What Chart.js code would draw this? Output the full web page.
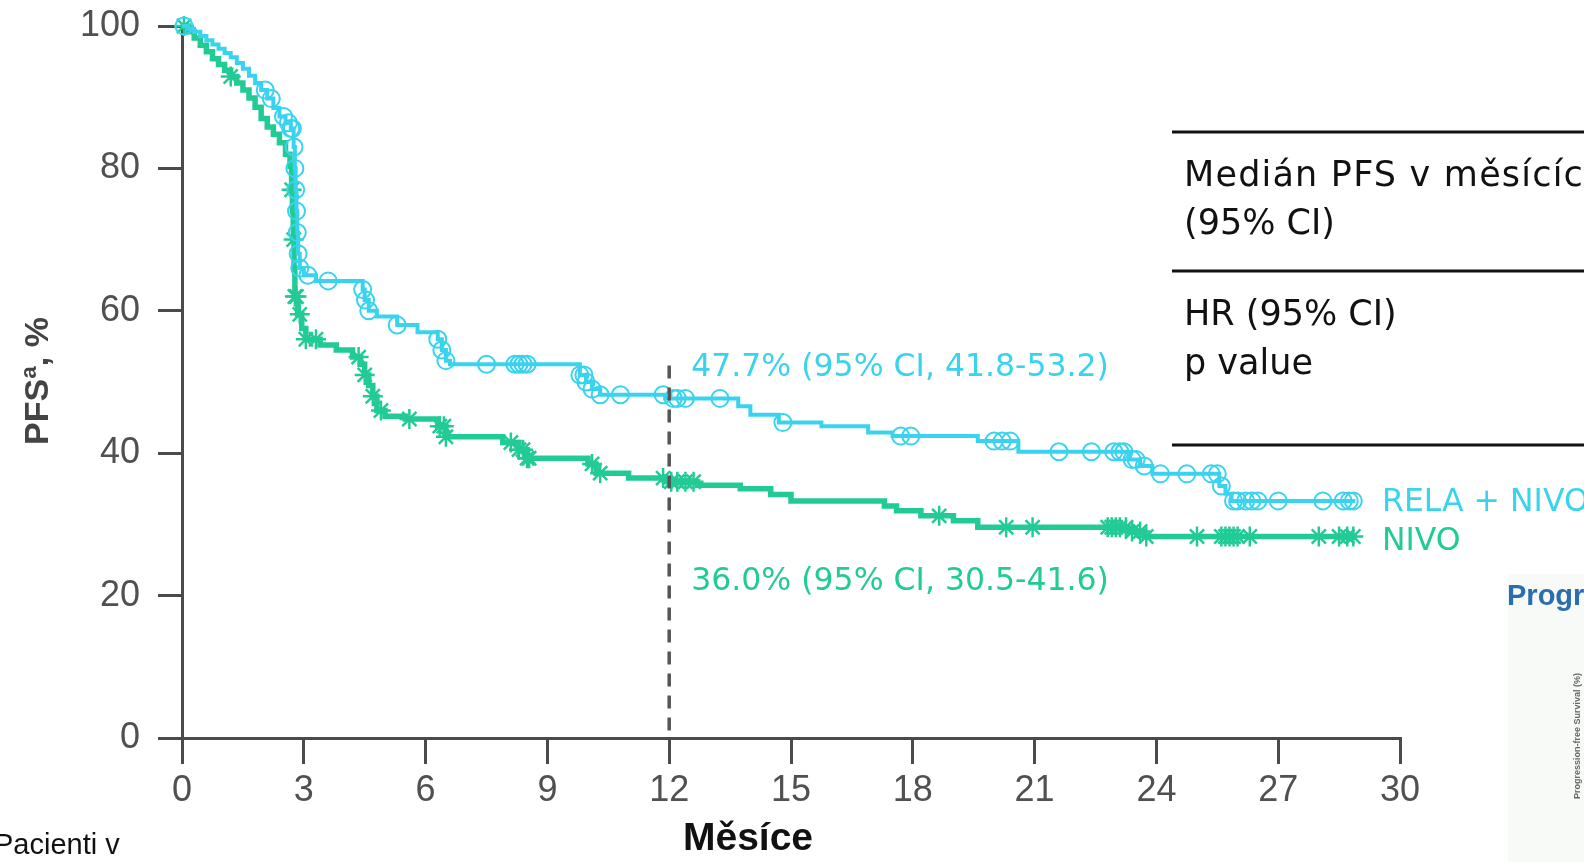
<!DOCTYPE html>
<html lang="cs">
<head>
<meta charset="UTF-8">
<title>PFS – RELA + NIVO vs NIVO</title>
<script src="https://cdn.jsdelivr.net/npm/chart.js@4"></script>
<style>
  html, body { margin: 0; padding: 0; background: #fff; overflow: hidden; }
  #wrap { width: 1584px; height: 862px; position: relative; }
</style>
</head>
<body>
<div id="wrap"><canvas id="pfsChart"></canvas></div>
<script>
// Kaplan-Meier steps: month of each drop and PFS (%) right after it
const relaNivoTimes = [0, 0.15, 0.3, 0.45, 0.6, 0.75, 0.9, 1.05, 1.2, 1.35, 1.5, 1.65, 1.8, 1.95,
  2.1, 2.25, 2.4, 2.55, 2.68, 2.75, 2.78, 2.8, 2.82, 2.84, 2.86, 2.9, 3.0, 3.3, 4.45, 4.5, 4.6, 4.8,
  5.3, 5.8, 6.3, 6.4, 6.5, 6.6, 9.8, 9.95, 10.1, 10.3, 11.9, 13.7, 14.0, 14.7, 15.75, 16.9, 17.5,
  19.6, 20.6, 23.35, 23.6, 23.9, 25.55, 25.7, 25.85];
const relaNivoPfs = [100, 99.6, 99.2, 98.6, 98, 97.4, 96.8, 96.2, 95.6, 94.8, 94, 93, 92, 91,
  89.8, 88.5, 87.3, 86.4, 85.6, 83, 80, 77, 74, 71, 68, 66, 65, 64.2, 63, 61.5, 60, 59.2,
  58, 57, 56, 54.5, 53, 52.5, 51, 50, 49, 48.2, 47.7, 46.6, 45.4, 44.3, 43.8, 42.9, 42.4,
  41.7, 40.2, 39.1, 38.2, 37.1, 35.4, 34.3, 33.3];
const relaNivoEnd = 28.9;
const relaNivoCensored = [0.05, 2.05, 2.2, 2.5, 2.62, 2.68, 2.72, 2.76, 2.78, 2.8, 2.82, 2.84, 2.86,
  2.9, 3.1, 3.6, 4.45, 4.52, 4.6, 5.3, 6.3, 6.4, 6.5, 7.5, 8.2, 8.3, 8.4, 8.5, 9.8, 9.9, 9.95, 10.1,
  10.3, 10.8, 11.85, 12.1, 12.2, 12.4, 13.25, 14.8, 17.7, 17.95, 20.0, 20.2, 20.4, 21.6, 22.4, 22.95,
  23.1, 23.2, 23.4, 23.5, 23.7, 24.1, 24.75, 25.35, 25.5, 25.6, 25.9, 26.0, 26.2, 26.35, 26.5, 27.0,
  28.1, 28.6, 28.75, 28.85];

const nivoTimes = [0, 0.15, 0.3, 0.45, 0.6, 0.75, 0.9, 1.05, 1.2, 1.35, 1.5, 1.65, 1.8, 1.95,
  2.1, 2.25, 2.4, 2.55, 2.66, 2.7, 2.72, 2.74, 2.76, 2.78, 2.85, 2.95, 3.05, 3.4, 3.8, 4.2, 4.4,
  4.5, 4.6, 4.7, 4.8, 5.0, 5.5, 6.3, 6.5, 7.9, 8.3, 8.5, 10.0, 10.2, 11.0, 11.9, 12.7, 13.75, 14.5,
  15.0, 17.3, 17.6, 18.2, 19.0, 19.6, 23.3, 23.7];
const nivoPfs = [100, 99.2, 98.3, 97.3, 96.4, 95.4, 94.6, 93.8, 92.9, 92, 91, 89.9, 88.6, 87,
  85.8, 84.8, 83.6, 82, 80.3, 77, 74, 70, 66, 62, 59.5, 57.5, 56, 55.2, 54.5, 53.5, 52.5,
  51, 49.5, 48, 46, 45.2, 44.8, 43.8, 42.3, 41.5, 40.5, 39.3, 38.5, 37.2, 36.5, 36.0, 35.5, 35.0, 34.2,
  33.3, 32.6, 31.9, 31.2, 30.5, 29.6, 29.0, 28.3];
const nivoEnd = 28.9;
const nivoCensored = [0.05, 1.2, 2.7, 2.75, 2.78, 2.82, 2.9, 3.05, 3.3, 4.35, 4.5, 4.7, 4.9, 5.6,
  6.35, 6.45, 6.5, 8.1, 8.3, 8.4, 8.5, 8.55, 10.1, 10.3, 11.85, 12.05, 12.2, 12.4, 12.6, 18.65, 20.3,
  20.95, 22.8, 22.9, 23.0, 23.1, 23.25, 23.4, 23.6, 23.75, 25.0, 25.6, 25.7, 25.8, 25.9, 26.0, 26.3,
  28.0, 28.5, 28.7, 28.85];

// 12-month landmark
const landmarkMonth = 12;
const landmarkTop = 52.3;
const landmarkRelaNivo = '47.7% (95% CI, 41.8-53.2)';
const landmarkNivo = '36.0% (95% CI, 30.5-41.6)';

const xTickValues = [0, 3, 6, 9, 12, 15, 18, 21, 24, 27, 30];
const yTickValues = [0, 20, 40, 60, 80, 100];

const CYAN = '#3ad3ef';
const GREEN = '#22cb95';
const AXIS = '#4b4b4b';
const TICK_TEXT = '#505050';

function pfsAt(times, values, t) {
  let v = values[0];
  for (let i = 0; i < times.length; i++) {
    if (times[i] <= t) v = values[i]; else break;
  }
  return v;
}

function kmCurve(times, values, end) {
  const pts = times.map((t, i) => ({ x: t, y: values[i] }));
  pts.push({ x: end, y: values[values.length - 1] });
  return pts;
}

function censorMarks(times, values, marks) {
  return marks.map(t => ({ x: t, y: pfsAt(times, values, t) }));
}

// text outside the plot: table, landmark labels, arm names, axis titles
const extrasPlugin = {
  id: 'extras',
  afterDraw(chart) {
    const ctx = chart.ctx;
    const xs = chart.scales.x;
    ctx.save();

    // landmark values
    const lx = xs.getPixelForValue(landmarkMonth) + 22;
    ctx.font = '31.5px "DejaVu Sans"';
    ctx.textBaseline = 'alphabetic';
    ctx.textAlign = 'left';
    ctx.fillStyle = CYAN;
    ctx.fillText(landmarkRelaNivo, lx, 376);
    ctx.fillStyle = GREEN;
    ctx.fillText(landmarkNivo, lx, 590);

    // arm labels
    ctx.fillStyle = CYAN;
    ctx.fillText('RELA + NIVO', 1382, 511);
    ctx.fillStyle = GREEN;
    ctx.fillText('NIVO', 1382, 550);

    // summary table
    ctx.strokeStyle = '#111';
    ctx.lineWidth = 3;
    [132, 271, 445].forEach(y => {
      ctx.beginPath();
      ctx.moveTo(1172, y);
      ctx.lineTo(1584, y);
      ctx.stroke();
    });
    ctx.fillStyle = '#111';
    ctx.font = '35px "DejaVu Sans"';
    ctx.letterSpacing = '1.2px';
    ctx.fillText('Medián PFS v měsících', 1184, 186);
    ctx.letterSpacing = '0px';
    ctx.fillText('(95% CI)', 1184, 234);
    ctx.fillText('HR (95% CI)', 1184, 325);
    ctx.fillText('p value', 1184, 374);

    // axis titles
    ctx.fillStyle = '#111';
    ctx.font = 'bold 39px "Liberation Sans"';
    ctx.textAlign = 'center';
    ctx.fillText('Měsíce', 748, 850);

    ctx.save();
    ctx.translate(48, 381);
    ctx.rotate(-Math.PI / 2);
    ctx.fillStyle = '#444';
    ctx.font = 'bold 34px "Liberation Sans"';
    ctx.fillText('PFSª, %', 0, 0);
    ctx.restore();

    // patients-at-risk heading
    ctx.textAlign = 'left';
    ctx.fillStyle = '#111';
    ctx.font = '29px "Liberation Sans"';
    ctx.fillText('Pacienti v', -6, 854);

    // small inset figure in the corner
    ctx.fillStyle = '#f8faf7';
    ctx.fillRect(1508, 574, 76, 288);
    ctx.fillStyle = '#2a6db0';
    ctx.font = 'bold 29px "Liberation Sans"';
    ctx.fillText('Progression-free Survival', 1507, 605);
    ctx.save();
    ctx.translate(1580, 736);
    ctx.rotate(-Math.PI / 2);
    ctx.textAlign = 'center';
    ctx.fillStyle = '#666';
    ctx.font = 'bold 9px "Liberation Sans"';
    ctx.fillText('Progression-free Survival (%)', 0, 0);
    ctx.restore();

    ctx.restore();
  }
};

const tickFont = { family: '"Liberation Sans", sans-serif', size: 36 };

new Chart(document.getElementById('pfsChart'), {
  type: 'scatter',
  data: {
    datasets: [
      {
        label: '12 months',
        data: [{ x: landmarkMonth, y: landmarkTop }, { x: landmarkMonth, y: 0 }],
        showLine: true,
        borderColor: '#555',
        borderWidth: 3.5,
        borderDash: [13, 9],
        pointRadius: 0
      },
      {
        label: 'RELA + NIVO censored',
        data: censorMarks(relaNivoTimes, relaNivoPfs, relaNivoCensored),
        showLine: false,
        pointStyle: 'circle',
        pointRadius: 8.5,
        pointBorderWidth: 2,
        pointBorderColor: CYAN,
        pointBackgroundColor: 'rgba(255,255,255,0)',
        clip: false
      },
      {
        label: 'RELA + NIVO',
        data: kmCurve(relaNivoTimes, relaNivoPfs, relaNivoEnd),
        showLine: true,
        stepped: true,
        borderColor: CYAN,
        borderWidth: 4,
        pointRadius: 0,
        clip: false
      },
      {
        label: 'NIVO censored',
        data: censorMarks(nivoTimes, nivoPfs, nivoCensored),
        showLine: false,
        pointStyle: 'star',
        pointRadius: 10,
        pointBorderWidth: 2.5,
        pointBorderColor: GREEN,
        pointBackgroundColor: GREEN,
        clip: false
      },
      {
        label: 'NIVO',
        data: kmCurve(nivoTimes, nivoPfs, nivoEnd),
        showLine: true,
        stepped: true,
        borderColor: GREEN,
        borderWidth: 5.5,
        pointRadius: 0,
        clip: false
      }
    ]
  },
  options: {
    responsive: true,
    maintainAspectRatio: false,
    animation: false,
    events: [],
    layout: { padding: { top: 26, right: 184, left: 0, bottom: 0 } },
    plugins: {
      legend: { display: false },
      tooltip: { enabled: false }
    },
    scales: {
      x: {
        type: 'linear',
        min: 0,
        max: 30,
        afterBuildTicks: s => { s.ticks = xTickValues.map(v => ({ value: v })); },
        afterFit: s => { s.height = 124; },
        ticks: { color: TICK_TEXT, font: tickFont, padding: 5, maxRotation: 0 },
        grid: { drawOnChartArea: false, tickLength: 26, lineWidth: 3, color: AXIS },
        border: { color: AXIS, width: 3 }
      },
      y: {
        min: 0,
        max: 100,
        afterBuildTicks: s => { s.ticks = yTickValues.map(v => ({ value: v })); },
        afterFit: s => { s.width = 182; s.paddingTop = 0; s.paddingBottom = 0; },
        ticks: { color: TICK_TEXT, font: tickFont, padding: 18 },
        grid: { drawOnChartArea: false, tickLength: 24, lineWidth: 3, color: AXIS },
        border: { color: AXIS, width: 3 }
      }
    }
  },
  plugins: [extrasPlugin]
});
</script>
</body>
</html>
